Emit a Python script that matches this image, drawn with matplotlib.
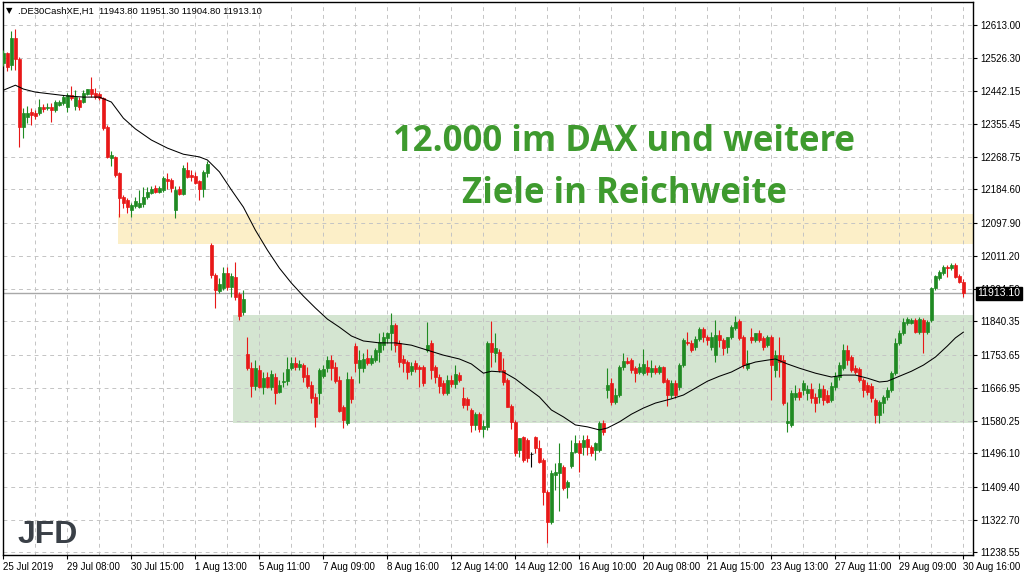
import matplotlib
matplotlib.use("Agg")
import matplotlib.pyplot as plt

# DE30 H1 candles, 25 Jul - 30 Aug 2019
opens = [
    12514, 12540, 12508, 12579, 12524, 12347, 12373, 12386, 12383, 12383,
    12399, 12396, 12399, 12391, 12404, 12409, 12399, 12430, 12402, 12417,
    12412, 12433, 12446, 12435, 12433, 12422, 12347, 12266, 12269, 12227,
    12164, 12156, 12130, 12141, 12138, 12146, 12164, 12175, 12188, 12177,
    12183, 12211, 12209, 12130, 12185, 12172, 12235, 12222, 12219, 12206,
    12185, 12227, 12039, 11961, 11919, 11927, 11966, 11930, 11956, 11911,
    11864, 11755, 11718, 11671, 11713, 11669, 11695, 11669, 11695, 11656,
    11682, 11684, 11718, 11731, 11721, 11726, 11700, 11674, 11643, 11653,
    11697, 11718, 11739, 11721, 11687, 11617, 11575, 11690, 11776, 11718,
    11718, 11744, 11731, 11739, 11760, 11778, 11797, 11810, 11830, 11784,
    11742, 11734, 11710, 11731, 11721, 11721, 11765, 11784, 11721, 11695,
    11679, 11653, 11687, 11677, 11700, 11640, 11638, 11609, 11570, 11598,
    11559, 11565, 11784, 11757, 11760, 11713, 11687, 11619, 11578, 11505,
    11538, 11531, 11494, 11538, 11510, 11478, 11395, 11317, 11439, 11444,
    11460, 11408, 11463, 11499, 11523, 11512, 11533, 11512, 11505, 11505,
    11575, 11661, 11679, 11630, 11648, 11721, 11736, 11739, 11718, 11708,
    11705, 11721, 11708, 11718, 11708, 11721, 11687, 11648, 11679, 11669,
    11726, 11786, 11784, 11773, 11794, 11820, 11799, 11773, 11752, 11804,
    11791, 11773, 11799, 11823, 11841, 11799, 11718, 11799, 11791, 11810,
    11797, 11778, 11799, 11713, 11752, 11739, 11575, 11570, 11643, 11656,
    11661, 11653, 11664, 11643, 11643, 11664, 11648, 11635, 11669, 11695,
    11718, 11765, 11747, 11718, 11716, 11687, 11674, 11671, 11635, 11596,
    11627, 11643, 11661, 11705, 11784, 11810, 11836, 11836, 11843, 11812,
    11843, 11812, 11843, 11927, 11953, 11966, 11982, 11979, 11987, 11958,
    11943.8,
]
highs = [
    12548, 12542, 12597, 12602, 12529, 12396, 12402, 12396, 12391, 12420,
    12407, 12409, 12409, 12417, 12417, 12430, 12435, 12454, 12443, 12425,
    12443, 12446, 12477, 12449, 12438, 12425, 12352, 12284, 12271, 12230,
    12170, 12162, 12149, 12164, 12183, 12190, 12190, 12193, 12196, 12193,
    12219, 12227, 12214, 12193, 12193, 12248, 12256, 12235, 12230, 12209,
    12235, 12258, 12044, 11966, 11953, 11982, 11982, 11966, 11995, 11916,
    11922, 11799, 11734, 11739, 11726, 11708, 11708, 11713, 11705, 11687,
    11708, 11747, 11747, 11747, 11739, 11731, 11721, 11684, 11653, 11718,
    11726, 11750, 11752, 11734, 11697, 11622, 11708, 11697, 11784, 11765,
    11757, 11768, 11752, 11770, 11810, 11812, 11812, 11862, 11836, 11791,
    11752, 11739, 11734, 11739, 11726, 11726, 11838, 11791, 11726, 11703,
    11687, 11700, 11700, 11726, 11708, 11669, 11643, 11614, 11604, 11604,
    11583, 11789, 11841, 11810, 11768, 11744, 11692, 11625, 11583, 11536,
    11541, 11536, 11499, 11541, 11531, 11484, 11400, 11452, 11471, 11523,
    11465, 11426, 11531, 11544, 11531, 11544, 11544, 11518, 11525, 11580,
    11583, 11718, 11692, 11666, 11726, 11757, 11747, 11744, 11723, 11731,
    11768, 11739, 11739, 11726, 11726, 11723, 11692, 11687, 11687, 11731,
    11797, 11812, 11791, 11802, 11825, 11825, 11804, 11812, 11843, 11817,
    11797, 11799, 11830, 11854, 11846, 11804, 11765, 11823, 11810, 11817,
    11802, 11804, 11804, 11765, 11799, 11752, 11630, 11661, 11674, 11666,
    11687, 11674, 11679, 11653, 11679, 11674, 11661, 11682, 11708, 11734,
    11781, 11778, 11752, 11726, 11721, 11692, 11682, 11679, 11640, 11635,
    11648, 11669, 11710, 11797, 11817, 11849, 11851, 11849, 11849, 11851,
    11849, 11843, 11930, 11961, 11974, 11987, 11987, 11992, 11992, 11964,
    11951.3,
]
lows = [
    12506, 12493, 12495, 12495, 12295, 12318, 12357, 12352, 12368, 12378,
    12386, 12391, 12360, 12386, 12402, 12404, 12386, 12417, 12391, 12391,
    12409, 12430, 12425, 12420, 12417, 12339, 12266, 12245, 12216, 12112,
    12136, 12123, 12112, 12136, 12136, 12138, 12159, 12172, 12175, 12175,
    12177, 12185, 12177, 12109, 12170, 12170, 12214, 12206, 12198, 12157,
    12164, 12216, 11953, 11875, 11914, 11922, 11922, 11904, 11896, 11843,
    11857, 11713, 11643, 11661, 11666, 11650, 11666, 11661, 11624, 11653,
    11669, 11674, 11713, 11713, 11713, 11682, 11666, 11627, 11565, 11624,
    11692, 11708, 11687, 11679, 11604, 11562, 11570, 11627, 11708, 11679,
    11708, 11726, 11726, 11734, 11734, 11765, 11784, 11765, 11760, 11721,
    11708, 11690, 11700, 11708, 11669, 11671, 11760, 11690, 11679, 11653,
    11648, 11648, 11669, 11666, 11682, 11614, 11609, 11551, 11557, 11551,
    11538, 11557, 11721, 11734, 11708, 11674, 11617, 11559, 11489, 11486,
    11473, 11473, 11460, 11497, 11471, 11361, 11262, 11311, 11400, 11345,
    11400, 11379, 11458, 11497, 11447, 11492, 11492, 11489, 11479, 11499,
    11544, 11640, 11622, 11624, 11643, 11713, 11729, 11705, 11682, 11703,
    11700, 11700, 11695, 11703, 11703, 11679, 11619, 11640, 11640, 11661,
    11721, 11778, 11760, 11765, 11789, 11786, 11778, 11765, 11734, 11773,
    11752, 11757, 11794, 11817, 11791, 11718, 11713, 11784, 11786, 11786,
    11765, 11773, 11635, 11695, 11695, 11622, 11551, 11565, 11635, 11635,
    11648, 11635, 11627, 11604, 11627, 11622, 11627, 11630, 11661, 11687,
    11713, 11726, 11708, 11703, 11682, 11643, 11648, 11630, 11575, 11575,
    11601, 11635, 11656, 11700, 11778, 11804, 11830, 11833, 11810, 11807,
    11757, 11807, 11838, 11922, 11948, 11961, 11956, 11974, 11953, 11940,
    11904.8,
]
closes = [
    12540, 12503, 12579, 12524, 12347, 12383, 12383, 12378, 12375, 12399,
    12394, 12399, 12391, 12412, 12412, 12425, 12430, 12422, 12425, 12399,
    12435, 12446, 12433, 12425, 12422, 12344, 12269, 12274, 12222, 12162,
    12149, 12138, 12143, 12154, 12149, 12164, 12177, 12185, 12177, 12188,
    12214, 12206, 12188, 12183, 12172, 12240, 12216, 12216, 12201, 12185,
    12230, 12250, 11961, 11922, 11937, 11966, 11930, 11958, 11904, 11854,
    11898, 11718, 11671, 11718, 11669, 11692, 11669, 11703, 11653, 11674,
    11684, 11716, 11731, 11721, 11729, 11695, 11671, 11640, 11591, 11713,
    11716, 11739, 11718, 11684, 11606, 11583, 11690, 11638, 11731, 11739,
    11742, 11731, 11744, 11765, 11786, 11799, 11810, 11830, 11778, 11734,
    11731, 11708, 11723, 11716, 11716, 11679, 11778, 11713, 11695, 11671,
    11653, 11687, 11677, 11703, 11687, 11622, 11622, 11570, 11598, 11559,
    11567, 11784, 11760, 11770, 11713, 11682, 11617, 11578, 11497, 11536,
    11478, 11484, 11494, 11510, 11473, 11395, 11317, 11444, 11447, 11471,
    11405, 11421, 11499, 11523, 11497, 11531, 11512, 11497, 11523, 11575,
    11551, 11674, 11630, 11648, 11721, 11736, 11731, 11713, 11705, 11721,
    11729, 11708, 11718, 11708, 11721, 11682, 11648, 11679, 11648, 11726,
    11791, 11784, 11765, 11794, 11820, 11799, 11791, 11799, 11804, 11791,
    11770, 11799, 11825, 11838, 11797, 11726, 11731, 11791, 11810, 11791,
    11773, 11799, 11726, 11752, 11734, 11627, 11580, 11653, 11653, 11643,
    11679, 11664, 11640, 11627, 11664, 11635, 11630, 11671, 11697, 11726,
    11765, 11739, 11713, 11708, 11687, 11661, 11656, 11640, 11596, 11630,
    11643, 11661, 11705, 11784, 11810, 11838, 11846, 11843, 11812, 11846,
    11812, 11838, 11927, 11958, 11969, 11982, 11979, 11987, 11956, 11943,
    11913.1,
]

# moving average, sampled at these bar numbers
ma_bars = [0, 3, 5, 8, 12, 16, 20, 24, 27, 30, 33, 37, 41, 45, 49, 51, 54, 57, 60, 63,
           66, 69, 72, 75, 78, 81, 84, 87, 90, 94, 98, 102, 106, 110, 114, 117, 120, 122, 125, 128,
           131, 134, 137, 140, 143, 146, 149, 151, 154, 157, 160, 163, 167, 170, 173, 176, 179, 182, 185, 188,
           191, 193, 196, 199, 203, 207, 210, 213, 216, 219, 221, 224, 227, 230, 233, 236, 238, 240]
ma_vals = [12443, 12456, 12446, 12438, 12433, 12428, 12425, 12425, 12412, 12370,
           12342, 12313, 12292, 12276, 12269, 12261, 12230, 12183, 12138, 12078,
           12026, 11979, 11940, 11906, 11875, 11846, 11825, 11802, 11789, 11784,
           11784, 11778, 11765, 11752, 11742, 11729, 11705, 11710, 11708, 11690,
           11666, 11643, 11609, 11591, 11570, 11565, 11557, 11562, 11578, 11598,
           11614, 11627, 11638, 11648, 11666, 11684, 11697, 11708, 11724, 11734,
           11739, 11742, 11729, 11718, 11705, 11695, 11700, 11700, 11692, 11682,
           11684, 11697, 11710, 11726, 11747, 11776, 11797, 11812]

yticks = [12613.00, 12526.30, 12442.15, 12355.45, 12268.75, 12184.60, 12097.90, 12011.20,
          11924.50, 11840.35, 11753.65, 11666.95, 11580.25, 11496.10, 11409.40, 11322.70, 11238.55]
xlabels = ["25 Jul 2019", "29 Jul 08:00", "30 Jul 15:00", "1 Aug 13:00", "5 Aug 11:00",
           "7 Aug 09:00", "8 Aug 16:00", "12 Aug 14:00", "14 Aug 12:00", "16 Aug 10:00",
           "20 Aug 08:00", "21 Aug 15:00", "23 Aug 13:00", "27 Aug 11:00", "29 Aug 09:00",
           "30 Aug 16:00"]

# zones
yellow_low, yellow_high, yellow_start = 12042, 12120, 28.75
green_low, green_high, green_start = 11575, 11857, 57.5
last_price = 11913.10
header = ".DE30CashXE,H1  11943.80 11951.30 11904.80 11913.10"

n = len(closes)
bars = list(range(n))
colors = []
for o, c in zip(opens, closes):
    if c > o:
        colors.append("#1f8a22")
    elif c < o:
        colors.append("#e81818")
    else:
        colors.append("black")

fig = plt.figure(figsize=(10.24, 5.76), dpi=100)
ax = fig.add_axes([3 / 1024, 21 / 576, 970 / 1024, 553 / 576])
ax.set_xlim(-0.1, 242.4)
ax.set_ylim(11230.8, 12673)

ax.axhspan(yellow_low, yellow_high, xmin=(yellow_start + 0.1) / 242.5, xmax=1,
           color="#fcefc8", lw=0, zorder=0)
ax.axhspan(green_low, green_high, xmin=(green_start + 0.1) / 242.5, xmax=1,
           color="#d4e5d1", lw=0, zorder=0)

ax.set_xticks(range(0, 241, 16))
ax.set_xticks(range(8, 241, 16), minor=True)
ax.set_xticklabels(xlabels, ha="left", fontsize=7, family="Liberation Sans")
ax.set_yticks(yticks)
ax.set_yticklabels(["%.2f" % v for v in yticks], fontsize=7, family="Liberation Sans")
ax.yaxis.tick_right()
ax.tick_params(axis="both", which="major", length=3, width=0.8, pad=2)
ax.tick_params(axis="x", which="minor", length=0)
ax.grid(which="both", axis="x", color="#c4c4c4", lw=0.7, linestyle=(0, (4, 4)), zorder=1)
ax.grid(which="major", axis="y", color="#c4c4c4", lw=0.7, linestyle=(0, (4, 4)), zorder=1)
ax.set_axisbelow(True)
for s in ax.spines.values():
    s.set_linewidth(1.0)
    s.set_color("black")

ax.axhline(last_price, color="#a8a8a8", lw=1, zorder=2)

ax.vlines(bars, lows, highs, colors=colors, lw=0.8, zorder=3)
ax.bar(bars, [c - o for o, c in zip(opens, closes)], bottom=opens, width=0.62,
       color=colors, edgecolor=colors, linewidth=0.5, zorder=4)
ax.plot(ma_bars, ma_vals, color="black", lw=0.75, zorder=5)

ax.annotate("%.2f" % last_price, xy=(1, last_price), xycoords=("axes fraction", "data"),
            xytext=(3, 0), textcoords="offset points", ha="left", va="center",
            color="white", fontsize=7.5, family="Liberation Sans",
            bbox=dict(facecolor="black", edgecolor="black", pad=1.2), annotation_clip=False, zorder=10)

fig.text(6 / 1024, 1 - 11 / 576, "\u25bc", fontsize=6, va="center", family="DejaVu Sans")
fig.text(18 / 1024, 1 - 11 / 576, header, fontsize=6.8, va="center", family="Liberation Sans")

fig.text(624 / 1024, 1 - 151 / 576, "12.000 im DAX und weitere", ha="center", va="baseline",
         fontsize=25, fontweight="bold", color="#3e9a2e", family="Open Sans")
fig.text(624 / 1024, 1 - 203 / 576, "Ziele in Reichweite", ha="center", va="baseline",
         fontsize=25, fontweight="bold", color="#3e9a2e", family="Open Sans")

fig.text(18 / 1024, 1 - 543 / 576, "JFD", va="baseline", fontsize=23, fontweight="bold",
         color="#3a4047", family="Liberation Sans")

fig.savefig("out.png", dpi=100)
